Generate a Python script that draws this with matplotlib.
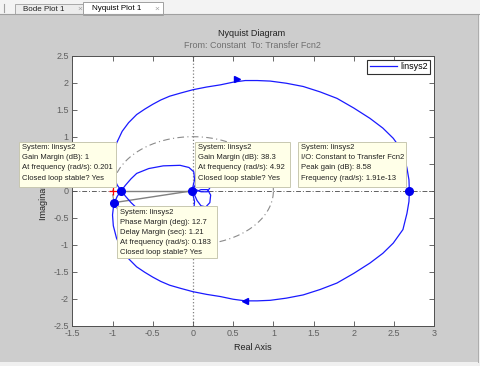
import numpy as np
import matplotlib
matplotlib.use('Agg')
import matplotlib.pyplot as plt
from matplotlib.patches import Rectangle
from matplotlib.lines import Line2D
from matplotlib.transforms import Affine2D

plt.rcParams['font.family'] = ['Liberation Sans', 'DejaVu Sans']

# positive-frequency branch of the Nyquist curve
pos_re = [2.69, 2.685, 2.66, 2.61, 2.49, 2.36, 2.20, 2.00, 1.79, 1.58, 1.37, 1.16,
          0.96, 0.80, 0.65, 0.50, 0.34, 0.17, 0.00, -0.15, -0.29, -0.40, -0.50,
          -0.60, -0.70, -0.80, -0.88, -0.95, -0.99, -1.00, -0.99, -0.976, -0.94,
          -0.891, -0.84, -0.77, -0.70, -0.55, -0.37, -0.16, -0.05, 0.01, 0.02,
          0.00, -0.012, 0.02, 0.10, 0.18, 0.22, 0.21, 0.16, 0.10, 0.05, 0.02, 0.00]
pos_im = [0.00, -0.20, -0.42, -0.72, -0.97, -1.16, -1.34, -1.53, -1.71, -1.83, -1.93, -1.99,
          -2.03, -2.04, -2.04, -2.01, -1.96, -1.92, -1.87, -1.81, -1.75, -1.68, -1.60,
          -1.51, -1.41, -1.26, -1.10, -0.88, -0.65, -0.45, -0.32, -0.22, -0.10,
          0.00, 0.10, 0.22, 0.32, 0.41, 0.46, 0.47, 0.43, 0.35, 0.20,
          0.08, 0.00, -0.03, 0.02, 0.02, -0.08, -0.22, -0.30, -0.28, -0.18, -0.08, -0.02]

# margin / peak markers
mark_re = [-0.891, -0.976, -0.012, 2.69]
mark_im = [0.0, -0.22, 0.0, 0.0]
gm_pt = (-0.891, 0.0)
pm_pt = (-0.976, -0.22)

# direction arrows
arrow_re = [0.55, 0.65]
arrow_im = [2.06, -2.04]

xticks = [-1.5, -1, -0.5, 0, 0.5, 1, 1.5, 2, 2.5, 3]
yticks = [-2.5, -2, -1.5, -1, -0.5, 0, 0.5, 1, 1.5, 2, 2.5]

tips = [
    ["System: linsys2", "Gain Margin (dB): 1", "At frequency (rad/s): 0.201",
     "Closed loop stable? Yes"],
    ["System: linsys2", "Gain Margin (dB): 38.3", "At frequency (rad/s): 4.92",
     "Closed loop stable? Yes"],
    ["System: linsys2", "I/O: Constant to Transfer Fcn2", "Peak gain (dB): 8.58",
     "Frequency (rad/s): 1.91e-13"],
    ["System: linsys2", "Phase Margin (deg): 12.7", "Delay Margin (sec): 1.21",
     "At frequency (rad/s): 0.183", "Closed loop stable? Yes"],
]

W, H = 481, 366
fig = plt.figure(figsize=(W / 100, H / 100), dpi=100, facecolor='#cdcdcd')
px = Affine2D().scale(1 / W, -1 / H).translate(0, 1) + fig.transFigure

# window chrome: tab strip and borders
fig.add_artist(Rectangle((0, 0), W, 14, transform=px, fc='#f3f3f3', ec='none', zorder=0))
fig.add_artist(Line2D([0, W], [14, 14], transform=px, color='#a0a0a0', lw=0.8))
fig.add_artist(Rectangle((15, 4), 68, 10, transform=px, fc='#ececec', ec='#a8a8a8', lw=0.7))
fig.add_artist(Rectangle((83, 2), 80, 12.5, transform=px, fc='#ffffff', ec='#a0a0a0', lw=0.7))
fig.add_artist(Line2D([4, 4], [4, 12], transform=px, color='#a0a0a0', lw=0.8))
fig.text(23, 9.5, 'Bode Plot 1', transform=px, fontsize=5.8, color='#202020', va='center')
fig.text(77, 9.5, '\u00d7', transform=px, fontsize=6, color='#a0a0a0', va='center')
fig.text(92, 9, 'Nyquist Plot 1', transform=px, fontsize=5.8, color='#000000', va='center')
fig.text(154, 9, '\u00d7', transform=px, fontsize=6, color='#a0a0a0', va='center')
fig.add_artist(Rectangle((0, 362), W, 4, transform=px, fc='#f0f0f0', ec='none'))
fig.add_artist(Rectangle((478, 14), 3, 348, transform=px, fc='#f0f0f0', ec='none'))
fig.add_artist(Line2D([478, 478], [14, 362], transform=px, color='#a0a0a0', lw=0.6))

ax = fig.add_axes([72.3 / W, 1 - 325.7 / H, 362 / W, 270 / H])
ax.set_xlim(-1.5, 3)
ax.set_ylim(-2.5, 2.5)

# grid-ish zero lines and unit circle
ax.axvline(0, color='#808080', ls=':', lw=0.9, zorder=1)
ax.axhline(0, color='#606060', ls='-.', lw=0.7, dashes=(5, 2, 1, 2), zorder=1)
t = np.linspace(0, 2 * np.pi, 300)
ax.plot(np.cos(t), np.sin(t), color='#8a8a8a', ls='-.', lw=0.8, dashes=(6, 3, 1, 3), zorder=1)
ax.plot([gm_pt[0], 0], [gm_pt[1], 0], color='#808080', lw=1, zorder=2)
ax.plot([pm_pt[0], 0], [pm_pt[1], 0], color='#808080', lw=1, zorder=2)
ax.plot([-1], [0], marker='+', color='red', ms=6, mew=0.9, zorder=3)

re = np.array(pos_re)
im = np.array(pos_im)
ax.plot(re, im, color='#1a1aff', lw=0.9, label='linsys2', zorder=4)
ax.plot(re, -im, color='#1a1aff', lw=0.9, zorder=4)
ax.plot(arrow_re[0], arrow_im[0], marker='>', color='#0000ee', ms=5, zorder=5)
ax.plot(arrow_re[1], arrow_im[1], marker='<', color='#0000ee', ms=5, zorder=5)
ax.plot(mark_re, mark_im, 'o', color='#0000ee', ms=5.5, zorder=6)

ax.set_xticks(xticks)
ax.set_yticks(yticks)
ax.set_xticklabels([f'{v:g}' for v in xticks])
ax.set_yticklabels([f'{v:g}' for v in yticks])
ax.tick_params(direction='in', length=3.5, width=0.6, colors='#505050', labelsize=6.5,
               top=True, right=True, pad=2.5)
ax.tick_params(axis='both', labelcolor='#606060')
for s in ax.spines.values():
    s.set_color('#505050')
    s.set_linewidth(0.7)

ax.set_xlabel('Real Axis', fontsize=6.5, color='#202020')
ax.set_ylabel('Imaginary Axis', fontsize=6.5, color='#202020')
ax.xaxis.set_label_coords(0.5, -0.064)
ax.yaxis.set_label_coords(-0.067, 0.5)

fig.text(252, 33, 'Nyquist Diagram', transform=px, ha='center', va='center',
         fontsize=6.5, color='#202020')
fig.text(252, 45, 'From: Constant  To: Transfer Fcn2', transform=px, ha='center',
         va='center', fontsize=6.5, color='#707070')

leg = ax.legend(loc='upper right', fontsize=6.5, handlelength=3.0, handletextpad=0.35,
                borderpad=0.3, borderaxespad=0.45, fancybox=False, framealpha=1)
leg.get_frame().set_edgecolor('#303030')
leg.get_frame().set_linewidth(0.8)

# data tips (pixel boxes)
boxes = [(19, 141.7, 97.5, 45), (195, 141.7, 95, 45.6), (298.3, 141.7, 107.7, 45.6),
         (117.3, 206, 99.4, 52.3)]
for (x0, y0, w, h), lines in zip(boxes, tips):
    fig.add_artist(Rectangle((x0, y0), w, h, transform=px, fc='#ffffe8', ec='#c8c8b0',
                             lw=0.7, zorder=8))
    for i, s in enumerate(lines):
        fig.text(x0 + 3, y0 + 6 + i * 10.1, s, transform=px, va='center', ha='left',
                 fontsize=5.5, color='#202020', zorder=9)

fig.savefig('out.png', dpi=100, facecolor=fig.get_facecolor())
